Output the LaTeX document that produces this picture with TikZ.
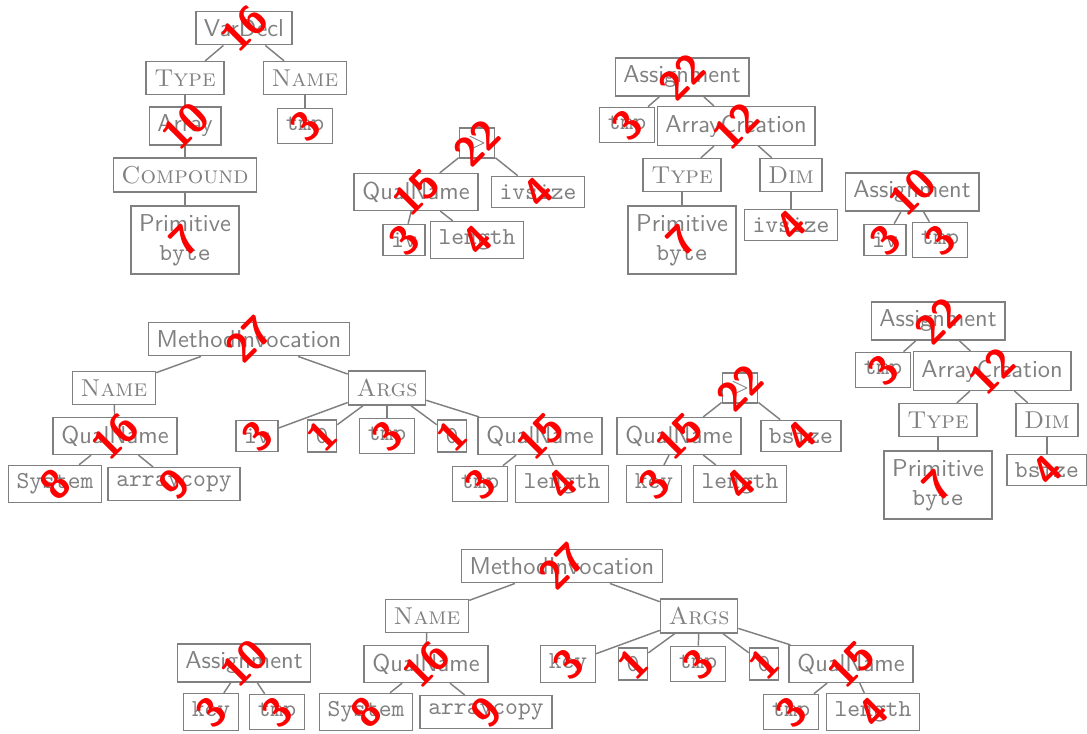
\documentclass[tikz,border=0pt]{standalone}
\begin{document}
\begin{tikzpicture}[x=0.4098pt, y=-0.4098pt,
  box/.style={draw=gray, text=gray, line width=0.6pt, font=\sffamily},
  role/.style={box, font=\rmfamily\scshape},
  ident/.style={box, font=\ttfamily},
  prim/.style={box, align=center},
  link/.style={draw=gray, line width=0.6pt},
  num/.style={text=red, font=\fontsize{17}{19}\selectfont\sffamily\bfseries, rotate=45, inner sep=0pt}]
\useasboundingbox (0,0) rectangle (1087,734);

% VarDecl tree
\node[box]   (vd)     at (244,28)  {VarDecl};
\node[role]  (atype)  at (185,78)  {Type};
\node[role]  (aname)  at (305,78)  {Name};
\node[box]   (aarr)   at (185,126) {Array};
\node[ident] (atmp)   at (305,126) {tmp};
\node[role]  (acomp)  at (185,175) {Compound};
\node[prim]  (aprim)  at (185,240) {Primitive\\\texttt{byte}};
\draw[link] (vd) -- (atype);
\draw[link] (vd) -- (aname);
\draw[link] (atype) -- (aarr);
\draw[link] (aarr) -- (acomp);
\draw[link] (acomp) -- (aprim);
\draw[link] (aname) -- (atmp);

% iv.length > ivsize
\node[box]   (bgt)    at (477,143) {$>$};
\node[box]   (bqn)    at (416,192) {QualName};
\node[ident] (bivs)   at (538,192) {ivsize};
\node[ident] (biv)    at (404,240) {iv};
\node[ident] (blen)   at (477,240) {length};
\draw[link] (bgt) -- (bqn);
\draw[link] (bgt) -- (bivs);
\draw[link] (bqn) -- (biv);
\draw[link] (bqn) -- (blen);

% tmp = new byte[ivsize]
\node[box]   (cas)    at (682,77)  {Assignment};
\node[ident] (ctmp)   at (627,125) {tmp};
\node[box]   (cac)    at (736,126) {ArrayCreation};
\node[role]  (ctype)  at (682,175) {Type};
\node[role]  (cdim)   at (791,175) {Dim};
\node[prim]  (cprim)  at (682,240) {Primitive\\\texttt{byte}};
\node[ident] (civs)   at (791,225) {ivsize};
\draw[link] (cas) -- (ctmp);
\draw[link] (cas) -- (cac);
\draw[link] (cac) -- (ctype);
\draw[link] (cac) -- (cdim);
\draw[link] (ctype) -- (cprim);
\draw[link] (cdim) -- (civs);

% iv = tmp
\node[box]   (das)    at (912,192) {Assignment};
\node[ident] (div)    at (885,240) {iv};
\node[ident] (dtmp)   at (940,240) {tmp};
\draw[link] (das) -- (div);
\draw[link] (das) -- (dtmp);

% System.arraycopy(iv, 0, tmp, 0, tmp.length)
\node[box]   (emi)    at (249,339) {MethodInvocation};
\node[role]  (ename)  at (114,388) {Name};
\node[role]  (eargs)  at (387,388) {Args};
\node[box]   (eqn)    at (115,436) {QualName};
\node[ident] (esys)   at (55,484)  {System};
\node[ident] (eac)    at (174,484) {arraycopy};
\node[ident] (eiv)    at (257,436) {iv};
\node[ident] (eza)    at (322,436) {0};
\node[ident] (etmp)   at (387,436) {tmp};
\node[ident] (ezb)    at (452,436) {0};
\node[box]   (eqnb)   at (540,436) {QualName};
\node[ident] (etmpb)  at (480,484) {tmp};
\node[ident] (elen)   at (562,484) {length};
\draw[link] (emi) -- (ename);
\draw[link] (emi) -- (eargs);
\draw[link] (ename) -- (eqn);
\draw[link] (eqn) -- (esys);
\draw[link] (eqn) -- (eac);
\draw[link] (eargs) -- (eiv);
\draw[link] (eargs) -- (eza);
\draw[link] (eargs) -- (etmp);
\draw[link] (eargs) -- (ezb);
\draw[link] (eargs) -- (eqnb);
\draw[link] (eqnb) -- (etmpb);
\draw[link] (eqnb) -- (elen);

% key.length > bsize
\node[box]   (fgt)    at (740,388) {$>$};
\node[box]   (fqn)    at (679,436) {QualName};
\node[ident] (fbs)    at (801,436) {bsize};
\node[ident] (fkey)   at (654,484) {key};
\node[ident] (flen)   at (740,484) {length};
\draw[link] (fgt) -- (fqn);
\draw[link] (fgt) -- (fbs);
\draw[link] (fqn) -- (fkey);
\draw[link] (fqn) -- (flen);

% tmp = new byte[bsize]
\node[box]   (gas)    at (938,321) {Assignment};
\node[ident] (gtmp)   at (883,370) {tmp};
\node[box]   (gac)    at (992,371) {ArrayCreation};
\node[role]  (gtype)  at (938,420) {Type};
\node[role]  (gdim)   at (1047,420) {Dim};
\node[prim]  (gprim)  at (938,485) {Primitive\\\texttt{byte}};
\node[ident] (gbs)    at (1047,470) {bsize};
\draw[link] (gas) -- (gtmp);
\draw[link] (gas) -- (gac);
\draw[link] (gac) -- (gtype);
\draw[link] (gac) -- (gdim);
\draw[link] (gtype) -- (gprim);
\draw[link] (gdim) -- (gbs);

% System.arraycopy(key, 0, tmp, 0, tmp.length)
\node[box]   (hmi)    at (562,566) {MethodInvocation};
\node[role]  (hname)  at (427,616) {Name};
\node[role]  (hargs)  at (699,616) {Args};
\node[box]   (hqn)    at (426,664) {QualName};
\node[ident] (hsys)   at (366,712) {System};
\node[ident] (hac)    at (486,712) {arraycopy};
\node[ident] (hkey)   at (568,664) {key};
\node[ident] (hza)    at (633,664) {0};
\node[ident] (htmp)   at (698,664) {tmp};
\node[ident] (hzb)    at (764,664) {0};
\node[box]   (hqnb)   at (851,664) {QualName};
\node[ident] (htmpb)  at (791,712) {tmp};
\node[ident] (hlen)   at (873,712) {length};
\draw[link] (hmi) -- (hname);
\draw[link] (hmi) -- (hargs);
\draw[link] (hname) -- (hqn);
\draw[link] (hqn) -- (hsys);
\draw[link] (hqn) -- (hac);
\draw[link] (hargs) -- (hkey);
\draw[link] (hargs) -- (hza);
\draw[link] (hargs) -- (htmp);
\draw[link] (hargs) -- (hzb);
\draw[link] (hargs) -- (hqnb);
\draw[link] (hqnb) -- (htmpb);
\draw[link] (hqnb) -- (hlen);

% key = tmp
\node[box]   (kas)    at (244,663) {Assignment};
\node[ident] (kkey)   at (211,712) {key};
\node[ident] (ktmp)   at (277,712) {tmp};
\draw[link] (kas) -- (kkey);
\draw[link] (kas) -- (ktmp);

% subtree sizes
\foreach \n/\v in {vd/16, aarr/10, atmp/3, aprim/7,
    bgt/22, bqn/15, bivs/4, biv/3, blen/4,
    cas/22, ctmp/3, cac/12, cprim/7, civs/4,
    das/10, div/3, dtmp/3,
    emi/27, eqn/16, esys/8, eac/9, eiv/3, eza/1, etmp/3, ezb/1, eqnb/15, etmpb/3, elen/4,
    fgt/22, fqn/15, fbs/4, fkey/3, flen/4,
    gas/22, gtmp/3, gac/12, gprim/7, gbs/4,
    hmi/27, hqn/16, hsys/8, hac/9, hkey/3, hza/1, htmp/3, hzb/1, hqnb/15, htmpb/3, hlen/4,
    kas/10, kkey/3, ktmp/3}
  \node[num] (size-\n) at (\n) {\v};
\end{tikzpicture}
\end{document}
